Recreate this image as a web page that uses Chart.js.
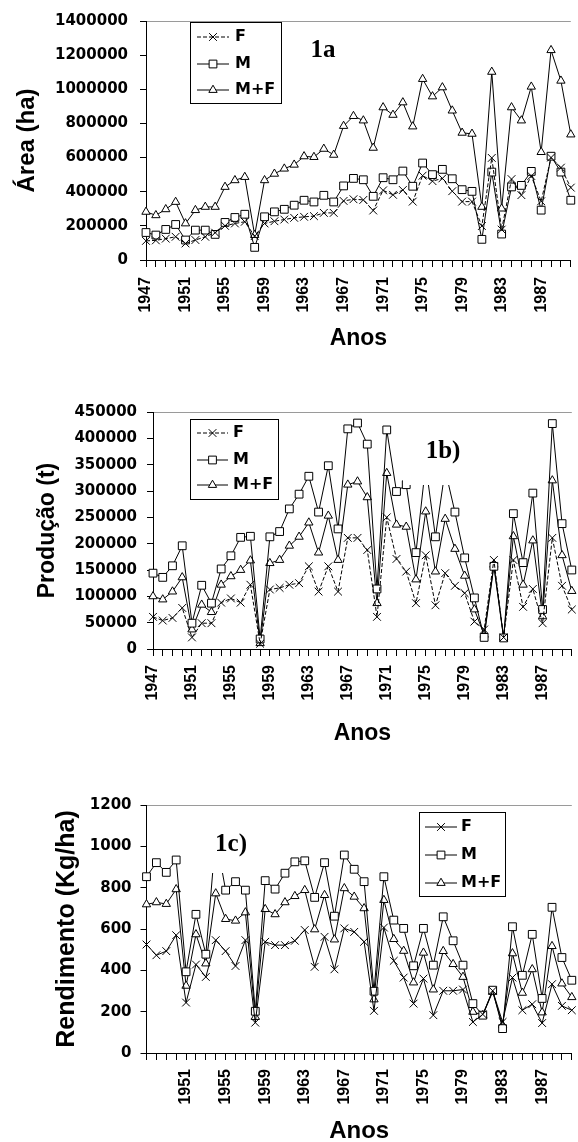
<!DOCTYPE html>
<html>
<head>
<meta charset="utf-8">
<title>Area, producao e rendimento</title>
<script src="https://cdn.jsdelivr.net/npm/chart.js@4.4.0/dist/chart.umd.min.js"></script>
<style>
    html, body { margin: 0; padding: 0; background: #ffffff; }
    body { position: relative; width: 578px; height: 1142px; overflow: hidden; }
    .panel { position: absolute; left: 0; width: 600px; }
</style>
</head>
<body>
<div class="panel" style="top:0px"><canvas id="areaChart" width="600" height="370"></canvas></div>
<div class="panel" style="top:380px"><canvas id="prodChart" width="600" height="390"></canvas></div>
<div class="panel" style="top:775px"><canvas id="rendChart" width="600" height="380"></canvas></div>
<script>
// categories
var years = ['1947','1948','1949','1950','1951','1952','1953','1954','1955','1956','1957','1958','1959','1960',
             '1961','1962','1963','1964','1965','1966','1967','1968','1969','1970','1971','1972','1973','1974',
             '1975','1976','1977','1978','1979','1980','1981','1982','1983','1984','1985','1986','1987','1988',
             '1989','1990'];

// 1a - area (ha)
var areaF  = [112000,115000,125000,136000,97000,117000,136000,160000,200000,214000,224000,140000,214000,227000,
              237000,247000,253000,257000,276000,276000,346000,356000,352000,290000,408000,382000,410000,342000,
              494000,462000,478000,403000,342000,342000,199000,598000,178000,474000,380000,492000,344000,600000,
              541000,424000];
var areaM  = [161000,146000,179000,208000,117000,175000,175000,150000,220000,249000,268000,74000,253000,282000,
              297000,321000,350000,340000,379000,340000,434000,478000,470000,373000,482000,470000,521000,432000,
              568000,500000,531000,476000,412000,402000,121000,515000,152000,428000,437000,519000,292000,608000,
              515000,350000];
var areaMF = [282000,262000,297000,340000,214000,292000,311000,311000,428000,467000,486000,146000,467000,505000,
              535000,558000,607000,603000,651000,616000,785000,843000,817000,657000,894000,850000,923000,782000,
              1060000,958000,1011000,875000,745000,739000,311000,1102000,301000,894000,817000,1015000,632000,1229000,
              1050000,735000];
var areaTicks = [0, 1400000, 200000];

// 1b) - producao (t)
var prodF  = [61000,54000,59000,78000,22000,49000,49000,88000,96000,88000,122000,10000,113000,116000,
              122000,125000,157000,109000,157000,109000,211000,211000,188000,61000,250000,171000,147000,87000,
              178000,83000,144000,120000,106000,52000,37000,169000,22000,169000,80000,114000,49000,211000,
              120000,75000];
var prodM  = [144000,136000,158000,196000,49000,121000,87000,152000,177000,212000,214000,19000,213000,223000,
              266000,294000,328000,260000,348000,228000,418000,429000,389000,114000,416000,299000,312000,183000,
              350000,213000,340000,260000,173000,97000,22000,157000,21000,257000,164000,296000,75000,428000,
              238000,150000];
var prodMF = [100000,94000,109000,136000,37000,84000,70000,122000,138000,150000,168000,11000,163000,169000,
              196000,213000,240000,183000,253000,169000,312000,318000,288000,87000,334000,236000,232000,132000,
              261000,147000,247000,190000,139000,75000,27000,160000,22000,214000,122000,206000,62000,320000,
              178000,110000];
var prodTicks = [0, 450000, 50000];

// 1c) - rendimento (Kg/ha)
var rendF  = [525,473,493,570,244,428,368,546,493,421,546,147,538,522,
              522,543,595,417,562,405,603,586,538,204,607,446,365,239,
              360,183,301,301,307,150,187,301,150,365,207,236,145,333,
              228,207];
var rendM  = [853,921,874,934,393,671,478,1050,788,829,788,202,834,793,
              870,925,930,753,921,662,958,889,829,299,853,643,603,422,
              603,425,659,543,425,239,183,304,118,611,376,574,264,705,
              462,352];
var rendMF = [719,729,721,792,325,574,433,772,648,640,680,174,696,671,
              729,759,788,598,764,549,797,756,700,259,740,551,494,341,
              485,307,493,430,368,199,183,296,134,482,291,405,196,517,
              336,270];
var rendTicks = [0, 1200, 200];

// draw a marker the same way the legend sample needs it
function drawMarker(ctx, style, r, x, y) {
    ctx.beginPath();
    if (style === 'rect') {
        var s = r / Math.SQRT2;
        ctx.rect(x - s, y - s, 2 * s, 2 * s);
        ctx.fill();
    } else if (style === 'triangle') {
        var a = 0;
        ctx.moveTo(x + Math.sin(a) * r, y - Math.cos(a) * r);
        a += Math.PI * 2 / 3;
        ctx.lineTo(x + Math.sin(a) * r, y - Math.cos(a) * r);
        a += Math.PI * 2 / 3;
        ctx.lineTo(x + Math.sin(a) * r, y - Math.cos(a) * r);
        ctx.closePath();
        ctx.fill();
    } else {
        var d = r * Math.SQRT1_2;
        ctx.moveTo(x - d, y - d); ctx.lineTo(x + d, y + d);
        ctx.moveTo(x - d, y + d); ctx.lineTo(x + d, y - d);
    }
    ctx.stroke();
}

// panel tag (1a, 1b), 1c)) and the boxed legend inside the plot
var panelDecor = {
    id: 'panelDecor',
    afterDatasetsDraw: function(chart, args, opts) {
        var ctx = chart.ctx;
        var top = opts.frameTop;
        ctx.save();
        if (opts.tagBox) {
            ctx.fillStyle = '#ffffff';
            ctx.fillRect(opts.tagBox[0], opts.tagBox[1] - top, opts.tagBox[2], opts.tagBox[3]);
        }
        ctx.fillStyle = '#000000';
        ctx.font = 'bold 25px "Liberation Serif"';
        ctx.textAlign = 'center';
        ctx.textBaseline = 'middle';
        ctx.fillText(opts.tag, opts.tagX, opts.tagY - top);

        var lg = opts.legend;
        ctx.fillStyle = '#ffffff';
        ctx.fillRect(lg.box[0], lg.box[1] - top, lg.box[2], lg.box[3]);
        ctx.strokeStyle = '#000000';
        ctx.lineWidth = 1;
        ctx.strokeRect(lg.box[0] + 0.5, lg.box[1] - top + 0.5, lg.box[2], lg.box[3]);
        ctx.font = 'bold 16px "DejaVu Sans"';
        ctx.textAlign = 'left';
        chart.data.datasets.forEach(function(ds, i) {
            var y = lg.rows[i] - top;
            ctx.strokeStyle = '#000000';
            ctx.lineWidth = 1;
            ctx.setLineDash(ds.borderDash || []);
            ctx.beginPath();
            ctx.moveTo(lg.line[0], y);
            ctx.lineTo(lg.line[1], y);
            ctx.stroke();
            ctx.setLineDash([]);
            ctx.fillStyle = '#ffffff';
            drawMarker(ctx, ds.pointStyle, ds.pointRadius, (lg.line[0] + lg.line[1]) / 2, y);
            ctx.fillStyle = '#000000';
            ctx.fillText(ds.label, lg.textX, y);
        });
        ctx.restore();
    }
};

function buildDatasets(fData, mData, mfData, fDashed) {
    var list = [
        { label: 'F', data: fData, pointStyle: 'crossRot', pointRadius: 5.5, borderDash: fDashed ? [4, 2] : [] },
        { label: 'M', data: mData, pointStyle: 'rect', pointRadius: 5.5 },
        { label: 'M+F', data: mfData, pointStyle: 'triangle', pointRadius: 4.8 }
    ];
    list.forEach(function(ds) {
        ds.borderColor = '#000000';
        ds.borderWidth = 1;
        ds.backgroundColor = '#ffffff';
        ds.pointBorderColor = '#000000';
        ds.pointBackgroundColor = '#ffffff';
        ds.pointBorderWidth = 1;
        ds.pointHoverRadius = ds.pointRadius;
        ds.tension = 0;
        ds.fill = false;
        ds.clip = false;
    });
    return list;
}

function makeChart(canvasId, frame, datasets, ticks, yTitle, xLabelFrom, decor) {
    var canvasW = 600;
    var yLh = frame.yTitleSize * 1.2;
    var xLh = frame.xTitleSize * 1.2;
    decor.frameTop = frame.top;
    var ctx = document.getElementById(canvasId);
    return new Chart(ctx, {
        type: 'line',
        data: { labels: years, datasets: datasets },
        plugins: [panelDecor],
        options: {
            responsive: false,
            animation: false,
            events: [],
            layout: { padding: { left: 0, top: frame.plotTop - frame.top, right: canvasW - frame.plotRight, bottom: 0 } },
            plugins: {
                legend: { display: false },
                tooltip: { enabled: false },
                panelDecor: decor
            },
            scales: {
                x: {
                    type: 'category',
                    offset: false,
                    border: { display: true, color: '#000000', width: 1 },
                    grid: { drawOnChartArea: false, drawTicks: true, tickLength: 7, color: '#000000', tickColor: '#000000' },
                    ticks: {
                        autoSkip: false,
                        maxRotation: 90,
                        minRotation: 90,
                        padding: frame.xTickPad,
                        color: '#000000',
                        font: { family: 'Liberation Sans', weight: 'bold', size: 16 },
                        callback: function(val, index) {
                            return (index % 4 === 0 && index >= xLabelFrom) ? this.getLabelForValue(val) : '';
                        }
                    },
                    title: {
                        display: true,
                        text: 'Anos',
                        color: '#000000',
                        font: { family: 'Liberation Sans', weight: 'bold', size: frame.xTitleSize, lineHeight: 1.2 },
                        padding: { top: 0, bottom: (frame.top + frame.height) - frame.xTitleY - xLh / 2 }
                    },
                    afterFit: function(scale) {
                        scale.height = frame.top + frame.height - frame.plotBottom;
                    }
                },
                y: {
                    min: ticks[0],
                    max: ticks[1],
                    border: { display: true, color: '#000000', width: 1 },
                    grid: {
                        drawOnChartArea: true,
                        drawTicks: true,
                        tickLength: 6,
                        tickColor: '#000000',
                        color: function(c) {
                            return (c.tick && c.tick.value === ticks[1]) ? '#9a9a9a' : 'rgba(0,0,0,0)';
                        }
                    },
                    ticks: {
                        stepSize: ticks[2],
                        padding: frame.yTickPad,
                        color: '#000000',
                        font: { family: 'DejaVu Sans', weight: 'bold', size: 15 },
                        callback: function(value) { return String(value); }
                    },
                    title: {
                        display: true,
                        text: yTitle,
                        color: '#000000',
                        font: { family: 'Liberation Sans', weight: 'bold', size: frame.yTitleSize, lineHeight: 1.2 },
                        padding: { top: frame.yTitleX - yLh / 2, bottom: 0 }
                    },
                    afterFit: function(scale) {
                        scale.width = frame.plotLeft;
                    }
                }
            }
        }
    });
}

var areaFrame = { top: 0, height: 370, plotTop: 20, plotBottom: 260, plotLeft: 146, plotRight: 579,
                  yTitleX: 27, yTitleSize: 24, xTitleY: 339, xTitleSize: 23, yTickPad: 12, xTickPad: 10 };
var prodFrame = { top: 380, height: 390, plotTop: 412, plotBottom: 649, plotLeft: 153, plotRight: 580,
                  yTitleX: 48, yTitleSize: 23, xTitleY: 734, xTitleSize: 23, yTickPad: 10, xTickPad: 9 };
var rendFrame = { top: 775, height: 380, plotTop: 805, plotBottom: 1053, plotLeft: 146.5, plotRight: 580.5,
                  yTitleX: 67, yTitleSize: 25, xTitleY: 1131, xTitleSize: 24, yTickPad: 9, xTickPad: 9 };

makeChart('areaChart', areaFrame, buildDatasets(areaF, areaM, areaMF, true), areaTicks, '\u00c1rea (ha)', 0, {
    tag: '1a', tagX: 323, tagY: 51,
    legend: { box: [190, 22, 91, 81], rows: [37, 64, 90], line: [197, 229], textX: 235 }
});
makeChart('prodChart', prodFrame, buildDatasets(prodF, prodM, prodMF, true), prodTicks, 'Produ\u00e7\u00e3o (t)', 0, {
    tag: '1b)', tagX: 443, tagY: 452, tagBox: [403, 420, 67, 65],
    legend: { box: [190, 419, 88, 80], rows: [433, 460, 485], line: [197, 228], textX: 233 }
});
makeChart('rendChart', rendFrame, buildDatasets(rendF, rendM, rendMF, false), rendTicks, 'Rendimento (Kg/ha)', 4, {
    tag: '1c)', tagX: 231, tagY: 845, tagBox: [198, 818, 67, 55],
    legend: { box: [419, 812, 86, 84], rows: [827, 855, 883], line: [425, 457], textX: 461 }
});
</script>
</body>
</html>
